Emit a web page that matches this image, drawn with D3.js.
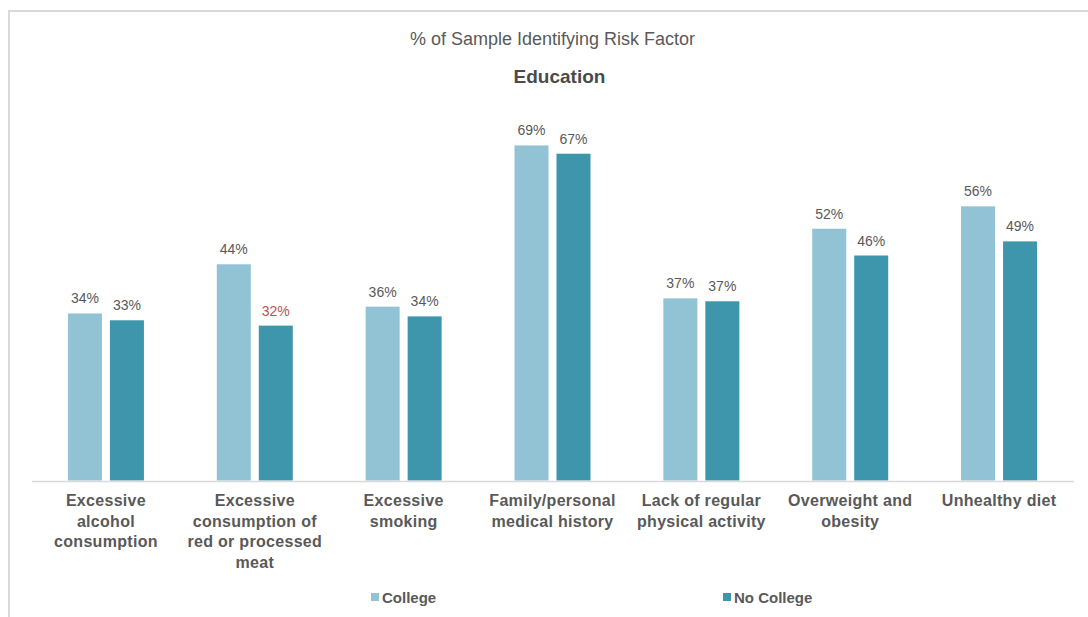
<!DOCTYPE html>
<html><head><meta charset="utf-8">
<script src="https://cdn.jsdelivr.net/npm/d3@7"></script>
<style>body{margin:0;background:#fff}svg{display:block}</style>
</head><body>
<svg id="c" width="1088" height="617"></svg>
<script>
const categories = [
  ["Excessive","alcohol","consumption"],
  ["Excessive","consumption of","red or processed","meat"],
  ["Excessive","smoking"],
  ["Family/personal","medical history"],
  ["Lack of regular","physical activity"],
  ["Overweight and","obesity"],
  ["Unhealthy diet"]
];
const series = ["College","No College"];
const college   = [34.3, 44.4, 35.7, 68.8, 37.4, 51.7, 56.3];
const noCollege = [32.9, 31.8, 33.7, 67.1, 36.8, 46.2, 49.1];
const labelsCollege   = ["34%","44%","36%","69%","37%","52%","56%"];
const labelsNoCollege = ["33%","32%","34%","67%","37%","46%","49%"];
const highlighted = [[1,1]]; // [category, series] label in red
const colors = ["#92c3d5","#3e96ac"];

const svg = d3.select("#c");
const font = "'Liberation Sans', Arial, sans-serif";

// frame
svg.append("path").attr("d","M9,617V11H1088").attr("fill","none").attr("stroke","#d9d9d9").attr("stroke-width",2);

svg.append("text").attr("x",552.5).attr("y",44.5).attr("text-anchor","middle")
  .attr("font-family",font).attr("font-size",18).attr("fill","#595959")
  .text("% of Sample Identifying Risk Factor");
svg.append("text").attr("x",559.5).attr("y",83).attr("text-anchor","middle")
  .attr("font-family",font).attr("font-size",19).attr("font-weight","bold").attr("fill","#4a4a4a")
  .text("Education");

const keys = categories.map((c,i)=>"c"+i);
const x0 = d3.scaleBand().domain(keys).range([31.5,1073.5]).paddingInner(0.4894).paddingOuter(0.2447);
const x1 = d3.scaleBand().domain(series).range([0,x0.bandwidth()]).paddingInner(0.19);
const y = d3.scaleLinear().domain([0,70]).range([480.5,139.6]);

const data = keys.map((k,i)=>({k, vals:[
  {s:series[0], v:college[i], l:labelsCollege[i], red:highlighted.some(h=>h[0]===i&&h[1]===0)},
  {s:series[1], v:noCollege[i], l:labelsNoCollege[i], red:highlighted.some(h=>h[0]===i&&h[1]===1)}
]}));

const g = svg.append("g").selectAll("g").data(data).join("g")
  .attr("transform",d=>`translate(${x0(d.k)},0)`);
g.selectAll("rect").data(d=>d.vals).join("rect")
  .attr("x",d=>x1(d.s)).attr("width",x1.bandwidth())
  .attr("y",d=>y(d.v)).attr("height",d=>y(0)-y(d.v))
  .attr("fill",(d,i)=>colors[i]);
g.selectAll("text").data(d=>d.vals).join("text")
  .attr("x",d=>x1(d.s)+x1.bandwidth()/2).attr("y",d=>y(d.v)-10)
  .attr("text-anchor","middle").attr("font-family",font).attr("font-size",14)
  .attr("fill",d=>d.red?"#c0504d":"#595959").text(d=>d.l);

// axis
const ax = svg.append("g").attr("transform","translate(0,481)")
  .call(d3.axisBottom(x0).tickSize(0).tickFormat(""));
ax.select(".domain").attr("stroke","#d9d9d9").attr("stroke-width",1.5);
ax.selectAll(".tick").each(function(k,i){
  const t = d3.select(this).append("text").attr("y",25).attr("text-anchor","middle")
    .attr("font-family",font).attr("font-size",16).attr("font-weight","bold")
    .attr("fill","#595959").attr("letter-spacing","0.3px");
  categories[i].forEach((line,j)=>t.append("tspan").attr("x",0).attr("dy",j?20.5:0).text(line));
});

// legend
const legX = [371,723];
series.forEach((s,i)=>{
  svg.append("rect").attr("x",legX[i]).attr("y",593).attr("width",8).attr("height",8).attr("fill",colors[i]);
  svg.append("text").attr("x",legX[i]+11).attr("y",603).attr("font-family",font)
    .attr("font-size",15).attr("font-weight","bold").attr("fill","#595959").text(s);
});
</script>
</body></html>
